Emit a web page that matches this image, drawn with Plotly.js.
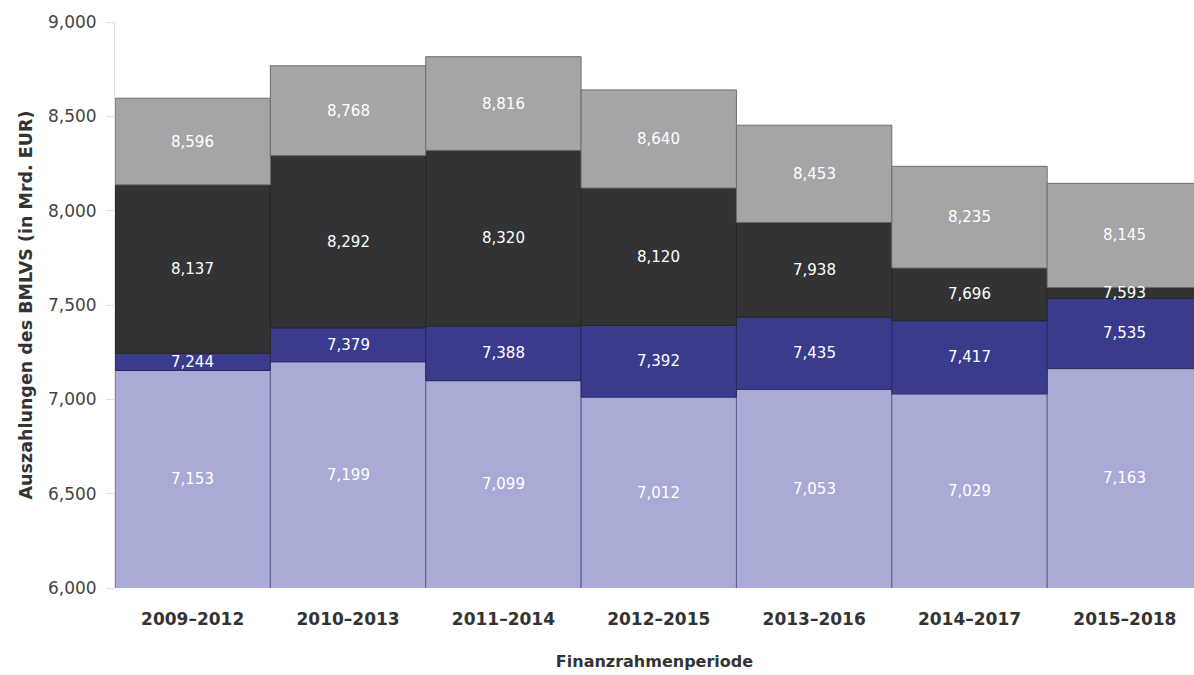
<!DOCTYPE html>
<html>
<head>
<meta charset="utf-8">
<script src="https://cdn.plot.ly/plotly-3.0.1.min.js"></script>
<style>html,body{margin:0;padding:0;background:#fff;}#chart{width:1194px;height:675px;}</style>
</head>
<body>
<div id="chart"></div>
<script>
const periods = ["2009–2012","2010–2013","2011–2014","2012–2015","2013–2016","2014–2017","2015–2018"];
// cumulative levels as labelled in the chart
const level1 = [7153, 7199, 7099, 7012, 7053, 7029, 7163];
const level2 = [7244, 7379, 7388, 7392, 7435, 7417, 7535];
const level3 = [8137, 8292, 8320, 8120, 7938, 7696, 7593];
const level4 = [8596, 8768, 8816, 8640, 8453, 8235, 8145];
const yTicks = [6000, 6500, 7000, 7500, 8000, 8500, 9000];

const levels = [level1, level2, level3, level4];
const fills = ["#aaaad6", "#3b3b8e", "#323335", "#a5a5a8"];
const lines = ["#5c5c92", "#2a2a55", "#262627", "#6e6e70"];

const traces = levels.map((lv, i) => {
  const base = i === 0 ? lv.map(() => 0) : levels[i - 1];
  return {
    type: "bar",
    x: periods,
    y: lv.map((v, j) => v - base[j]),
    base: base,
    marker: { color: fills[i], line: { color: lines[i], width: 1 } },
    hoverinfo: "skip",
    showlegend: false
  };
});

const annotations = [];
levels.forEach((lv, i) => {
  const lower = i === 0 ? lv.map(() => 6000) : levels[i - 1];
  lv.forEach((v, j) => {
    annotations.push({
      x: periods[j], y: (v + lower[j]) / 2, xref: "x", yref: "y",
      text: v.toLocaleString("en-US"), showarrow: false,
      font: { family: "DejaVu Sans", size: 15, color: "#ffffff" }
    });
  });
});

const layout = {
  width: 1194, height: 675,
  margin: { l: 115, r: 0, t: 22, b: 87 },
  paper_bgcolor: "#ffffff", plot_bgcolor: "#ffffff",
  barmode: "overlay", bargap: 0,
  font: { family: "DejaVu Sans", color: "#333" },
  xaxis: {
    range: [-0.5, 6.445], showgrid: false, zeroline: false,
    showline: false, ticks: "outside", ticklen: 16, tickcolor: "rgba(0,0,0,0)",
    tickfont: { family: "DejaVu Sans", size: 17, color: "#333", weight: "bold" },
    title: { text: "<b>Finanzrahmenperiode</b>", font: { family: "DejaVu Sans", size: 16, color: "#333" }, standoff: 27 }
  },
  yaxis: {
    range: [6000, 9000], tickvals: yTicks, tickformat: ",",
    showgrid: false, zeroline: false,
    showline: true, linecolor: "#e2e2e2", linewidth: 1,
    ticks: "outside", ticklen: 8, tickcolor: "#dddddd",
    ticklabelstandoff: 6,
    tickfont: { family: "DejaVu Sans", size: 17, color: "#444" },
    title: { text: "<b>Auszahlungen des BMLVS (in Mrd. EUR)</b>", font: { family: "DejaVu Sans", size: 17.5, color: "#333" }, standoff: 10 }
  },
  annotations: annotations
};

Plotly.newPlot("chart", traces, layout, { displayModeBar: false, staticPlot: true });
</script>
</body>
</html>
